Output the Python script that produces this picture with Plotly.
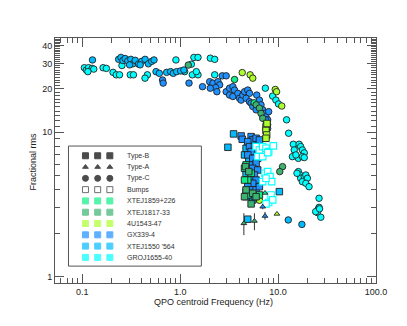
import plotly.graph_objects as go

# ---- data: QPO centroid frequency (Hz) and fractional rms (%) ----
# GROJ1655-40
gro_c_f = [0.105, 0.110, 0.116, 0.126, 0.131, 0.114, 0.163, 0.176, 0.206, 0.222, 0.240, 0.254,
           0.309, 0.333, 0.462, 0.437, 0.904, 1.38, 1.52, 2.03, 2.25, 1.30, 1.11, 1.33, 1.52, 1.46,
           2.25, 7.41, 8.8, 9.5, 10.1, 12.2, 12.8,
           14.3, 16.4, 17.0, 14.6, 17.7, 18.5, 14.0, 16.1, 17.7, 18.5, 15.2,
           16.1, 16.7, 17.0, 18.5, 19.2, 19.9, 17.7, 19.2, 20.7, 15.6,
           26.2, 26.2, 25.7, 25.2, 24.2, 27.3, 26.5]
gro_c_r = [28.0, 27.0, 28.0, 27.7, 27.4, 26.3, 28.0, 27.7, 26.0, 25.0, 25.0, 29.0,
           25.0, 25.0, 25.0, 23.7, 31.7, 33.0, 33.0, 32.6, 32.0, 29.6, 26.3, 25.0, 25.0, 26.3,
           25.0, 20.2, 17.8, 16.7, 15.7, 12.2, 9.85,
           8.26, 8.26, 7.96, 7.54, 7.54, 7.2, 6.78, 6.60, 6.78, 6.68, 6.97,
           5.34, 5.06, 4.80, 4.93, 5.06, 4.80, 4.55, 4.43, 4.20, 5.2,
           3.49, 3.02, 2.93, 2.78, 2.82, 2.58, 2.95]
gro_bump_f = [5.96, 6.44, 6.96, 7.52, 8.01, 8.93, 6.19, 6.96, 7.82, 7.35, 7.82, 8.26, 8.59,
              6.96, 7.52, 8.46, 8.01, 8.80, 7.52]
gro_bump_r = [7.96, 7.54, 7.96, 7.75, 7.35, 8.05, 6.78, 6.78, 7.23, 5.20, 5.34, 4.93, 4.55,
              4.55, 4.80, 3.68, 3.26, 3.40, 3.19]

# XTEJ1550-564
j1550_c_f = [0.235, 0.248, 0.260, 0.274, 0.292, 0.313, 0.328, 0.347, 0.375, 0.405, 0.438, 0.473,
             0.512, 0.540, 0.304, 0.390, 0.127,
             0.566, 0.612, 0.727, 0.798, 0.849, 0.918, 1.01, 1.09, 12.7, 17.5]
j1550_c_r = [32.0, 33.0, 31.4, 32.4, 31.2, 32.0, 29.8, 31.5, 29.7, 31.0, 32.0, 29.8,
             31.0, 31.7, 29.3, 29.3, 31.7,
             26.3, 25.6, 26.0, 26.3, 25.6, 26.3, 26.6, 27.0, 2.47, 2.30]
j1550_b_f = [3.51, 3.07, 4.71, 4.54, 5.02, 5.60, 6.44, 6.19, 4.71, 5.10, 5.73, 4.71, 5.51, 10.3, 4.90]
j1550_b_r = [9.74, 7.87, 7.75, 6.97, 6.43, 7.15, 8.39, 6.60, 5.20, 4.55, 4.32, 3.58, 3.40, 3.88, 2.50]

# GX339-4
gx_c_f = [2.0, 2.16, 2.43, 2.53, 2.30, 2.03, 2.37, 2.95, 3.19, 3.45, 3.59, 3.19, 3.45, 3.88, 4.03,
          4.19, 4.36, 4.54, 4.90, 5.10, 4.71, 5.10, 5.30, 5.51, 5.96, 6.05, 6.44, 6.69, 6.96, 7.24,
          7.52, 7.82, 8.01, 7.41, 7.82, 7.82, 1.23, 1.69, 2.69, 2.95, 0.66, 0.67]
gx_c_r = [22.4, 21.9, 22.4, 21.3, 20.4, 20.2, 19.1, 19.1, 20.2, 20.7, 19.6, 18.1, 17.7, 18.6, 17.2,
          16.7, 18.1, 19.1, 19.6, 18.6, 17.2, 16.3, 15.9, 15.1, 14.3, 18.1, 16.7, 15.5, 14.3, 13.5,
          12.8, 12.2, 13.9, 12.2, 11.3, 10.6, 21.9, 20.7, 24.6, 24.6, 23.0, 21.9]
gx_b_f = [4.19, 4.30, 5.30, 5.51, 5.96, 6.44, 4.90, 5.10, 5.73, 6.19, 5.30, 4.90, 5.51, 5.96, 5.10,
          5.51, 6.19, 5.73, 5.30, 5.96, 5.51, 4.90, 5.30, 5.96, 6.44, 5.10, 5.73]
gx_b_r = [9.43, 8.94, 9.33, 8.85, 9.09, 8.85, 8.62, 7.96, 7.96, 7.54, 7.35, 6.97, 6.60, 6.10, 5.94,
          5.63, 5.48, 5.06, 4.80, 4.67, 4.43, 4.20, 3.99, 3.99, 4.20, 3.78, 3.58]
gx_a_f = [7.35, 6.96]
gx_a_r = [2.63, 3.05]
gx_a_up = [0.18, 0.12]
gx_a_dn = [0.15, 0.12]

# XTEJ1859+226
j1859_c_f = [3.59, 5.70]
j1859_c_r = [23.2, 16.0]
j1859_b_f = [4.54, 4.71, 4.90, 4.54, 4.71, 4.90, 5.30, 6.44]
j1859_b_r = [5.63, 5.94, 4.67, 4.67, 3.88, 3.68, 5.20, 3.68]
j1859_a_f = [7.35]
j1859_a_r = [3.80]

# XTEJ1817-33
j1817_c_f = [1.21, 5.96, 6.44, 6.69, 6.96, 11.1, 10.4]
j1817_c_r = [29.2, 15.5, 14.7, 13.5, 12.5, 5.78, 5.34]
j1817_b_f = [4.64, 5.02, 5.51, 5.30, 4.71, 5.96, 4.54]
j1817_b_r = [5.78, 5.34, 3.78, 3.19, 3.99, 3.58, 3.58]
j1817_a_f = [4.47, 5.73]
j1817_a_r = [2.34, 2.43]
j1817_a_up = [0.41, 0.32]
j1817_a_dn = [0.40, 0.33]

# 4U1543-47
u1543_c_f = [4.30, 5.18, 5.51, 9.35, 9.65, 10.9, 6.44]
u1543_c_r = [25.9, 25.0, 23.7, 19.8, 19.1, 15.2, 3.38]
u1543_b_f = [7.52, 7.52, 7.64, 7.52, 7.70]
u1543_b_r = [10.9, 10.3, 9.58, 9.09, 11.5]
u1543_a_f = [9.73]
u1543_a_r = [2.72]

type_names = ["Type-B", "Type-A", "Type-C", "Bumps"]
source_names = ["XTEJ1859+226", "XTEJ1817-33", "4U1543-47", "GX339-4", "XTEJ1550 '564", "GROJ1655-40"]
source_colors = ["#10ee88", "#3cb371", "#adff2f", "#1e90ff", "#00bbff", "#00ffff"]
C1859, C1817, C1543, CGX, C1550, CGRO = source_colors

EDGE = "#202020"
fig = go.Figure()


def pts(f, r, color, symbol, size, edge=EDGE, lw=0.9, err=None):
    kw = {}
    if err is not None:
        kw["error_y"] = dict(type="data", symmetric=False, array=err[0], arrayminus=err[1],
                             color="#333333", thickness=1, width=0)
    fig.add_trace(go.Scatter(x=f, y=r, mode="markers", showlegend=False, hoverinfo="skip",
                             marker=dict(color=color, symbol=symbol, size=size,
                                         line=dict(color=edge, width=lw)), **kw))


# type-C circles
pts(gro_c_f, gro_c_r, CGRO, "circle", 6.5)
pts(j1550_c_f, j1550_c_r, C1550, "circle", 6.5)
pts(gx_c_f, gx_c_r, CGX, "circle", 6.5)
pts(j1859_c_f, j1859_c_r, C1859, "circle", 6.5)
pts(j1817_c_f, j1817_c_r, C1817, "circle", 6.5)
pts(u1543_c_f, u1543_c_r, C1543, "circle", 6.5)
# type-B squares
pts(j1550_b_f, j1550_b_r, C1550, "square", 6.5)
pts(gx_b_f, gx_b_r, CGX, "square", 6.5)
pts(j1859_b_f, j1859_b_r, C1859, "square", 6.5)
pts(j1817_b_f, j1817_b_r, C1817, "square", 6.5)
pts(u1543_b_f, u1543_b_r, C1543, "square", 6.5)
# bumps
pts(gro_bump_f, gro_bump_r, "white", "square", 6.5, edge=CGRO, lw=1.1)
# type-A triangles
pts(j1817_a_f, j1817_a_r, C1817, "triangle-up", 5, err=(j1817_a_up, j1817_a_dn))
pts(gx_a_f, gx_a_r, CGX, "triangle-up", 5, err=(gx_a_up, gx_a_dn))
pts(j1859_a_f, j1859_a_r, C1859, "triangle-up", 5)
pts(u1543_a_f, u1543_a_r, C1543, "triangle-up", 5)

# ---- hand-made legend (three symbols per row) ----
rows = type_names + source_names
leg_sym = ["square", "triangle-up", "circle", "square"] + ["square"] * len(source_names)
leg_col = ["black"] * 3 + ["white"] + source_colors
leg_edge = ["black"] * 3 + ["#333333"] + source_colors
leg_size = [6, 5, 6, 6] + [6] * len(source_names)
for k in range(3):
    fig.add_trace(go.Scatter(
        x=[17 + 12.2 * k] * len(rows), y=list(range(len(rows))), xaxis="x2", yaxis="y2",
        mode="markers", showlegend=False, hoverinfo="skip",
        marker=dict(symbol=leg_sym, color=leg_col, size=leg_size,
                    line=dict(color=leg_edge, width=1))))
for i, name in enumerate(rows):
    fig.add_annotation(x=57, y=i, xref="x2", yref="y2", text=name, showarrow=False,
                       xanchor="left", font=dict(size=7, color="#333333"))
fig.add_shape(type="rect", xref="paper", yref="paper", x0=0.042, x1=0.456, y0=0.069, y1=0.559,
              line=dict(color="#555555", width=1), fillcolor="rgba(0,0,0,0)")

axis_font = dict(family="Liberation Sans, Arial, sans-serif", size=9, color="#222222")

# axis titles as annotations for exact placement
fig.add_annotation(x=0.494, y=-0.076, xref="paper", yref="paper", text="QPO centroid Frequency (Hz)",
                   showarrow=False, yanchor="middle", font=axis_font)
fig.add_annotation(x=-0.07, y=0.494, xref="paper", yref="paper", text="Fractional rms",
                   showarrow=False, textangle=-90, xanchor="center", font=axis_font)

x_minor = [0.06, 0.07, 0.08, 0.09] + [k / 10 for k in range(2, 10)] + list(range(2, 10)) + \
    [10 * k for k in range(2, 10)]
y_minor = list(range(2, 10)) + [v for v in range(11, 45) if v not in (20, 30, 40)]

# the page body adds an 8 px margin, so the figure is a little smaller and margins shifted
fig.update_layout(
    width=399, height=318, margin=dict(l=46.5, r=31, t=30, b=43),
    paper_bgcolor="white", plot_bgcolor="white", font=axis_font, showlegend=False,
    xaxis=dict(type="log", range=[-1.279, 2.0], tickmode="array", automargin=False,
               tickvals=[0.1, 1, 10, 100], ticktext=["0.1", "1.0", "10.0", "100.0"],
               ticks="inside", ticklen=9, tickcolor="#555555", showgrid=False, zeroline=False,
               showline=True, linecolor="#555555", linewidth=1, mirror="ticks",
               minor=dict(tickmode="array", tickvals=x_minor, ticks="inside", ticklen=5,
                          tickcolor="#555555", showgrid=False)),
    yaxis=dict(type="log", range=[-0.044, 1.653], tickmode="array", automargin=False,
               tickvals=[1, 10, 20, 30, 40], ticktext=["1", "10", "20", "30", "40"],
               ticks="inside", ticklen=9, tickcolor="#555555", showgrid=False, zeroline=False,
               showline=True, linecolor="#555555", linewidth=1, mirror="ticks",
               minor=dict(tickmode="array", tickvals=y_minor, ticks="inside", ticklen=5,
                          tickcolor="#555555", showgrid=False)),
    xaxis2=dict(domain=[0.042, 0.456], anchor="y2", range=[0, 133], visible=False, fixedrange=True),
    yaxis2=dict(domain=[0.069, 0.559], anchor="x2", range=[9.77, -0.86], visible=False,
                fixedrange=True),
)

fig.write_html("out.html")
